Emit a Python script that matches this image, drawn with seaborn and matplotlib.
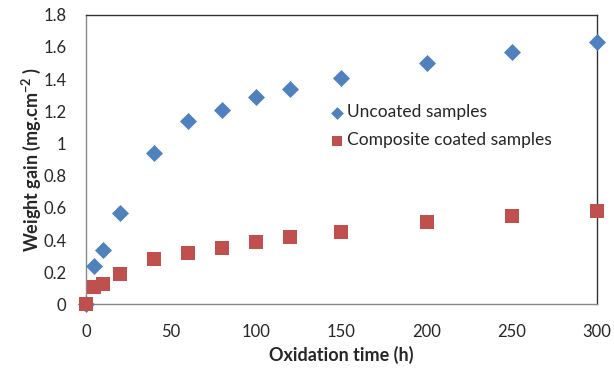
import matplotlib.pyplot as plt
import seaborn as sns
import pandas as pd

# Data
hours = [0, 5, 10, 20, 40, 60, 80, 100, 120, 150, 200, 250, 300]
uncoated = [0, 0.24, 0.34, 0.57, 0.94, 1.14, 1.21, 1.29, 1.34, 1.41, 1.50, 1.57, 1.63]
coated = [0, 0.11, 0.13, 0.19, 0.28, 0.32, 0.35, 0.39, 0.42, 0.45, 0.51, 0.55, 0.58]

df = pd.DataFrame({'hours': hours, 'uncoated': uncoated, 'coated': coated})

sns.set_style('white')
plt.rcParams['font.family'] = ['Lato', 'DejaVu Sans']

fig, ax = plt.subplots(figsize=(6.14, 3.69), dpi=100)

sns.scatterplot(data=df, x='hours', y='uncoated', marker='D', color='#4F81BD', s=75,
                linewidth=0, label='Uncoated samples', ax=ax, zorder=3, clip_on=False)
sns.scatterplot(data=df, x='hours', y='coated', marker='s', color='#C0504D', s=110,
                linewidth=0, label='Composite coated samples', ax=ax, zorder=4, clip_on=False)

ax.set_xlim(0, 300)
ax.set_ylim(0, 1.8)
ax.set_xticks(range(0, 301, 50))
ax.set_yticks([0, 0.2, 0.4, 0.6, 0.8, 1.0, 1.2, 1.4, 1.6, 1.8])
ax.set_yticklabels(['0', '0.2', '0.4', '0.6', '0.8', '1', '1.2', '1.4', '1.6', '1.8'])
ax.tick_params(axis='y', direction='out', length=4, color='#888888', labelsize=12, pad=10)
ax.tick_params(axis='x', direction='in', length=4, color='#888888', labelsize=12, pad=14)

for side in ['left', 'bottom']:
    ax.spines[side].set_color('#888888')
for side in ['top', 'right']:
    ax.spines[side].set_color('#333333')
for sp in ax.spines.values():
    sp.set_linewidth(1)
    sp.set_visible(True)

ax.set_xlabel('Oxidation time (h)', fontsize=13, fontweight='bold', labelpad=4)
ax.set_ylabel('Weight gain (mg.cm$^{\\mathregular{-2}}$ )', fontsize=13, fontweight='bold', labelpad=0)

leg = ax.legend(loc='upper left', bbox_to_anchor=(0.44, 0.745), frameon=False,
                fontsize=12.5, handletextpad=0.0, labelspacing=0.7, markerscale=0.75,
                handlelength=1.2)

fig.subplots_adjust(left=0.14, right=0.972, top=0.96, bottom=0.175)
fig.savefig('out.png', dpi=100)
